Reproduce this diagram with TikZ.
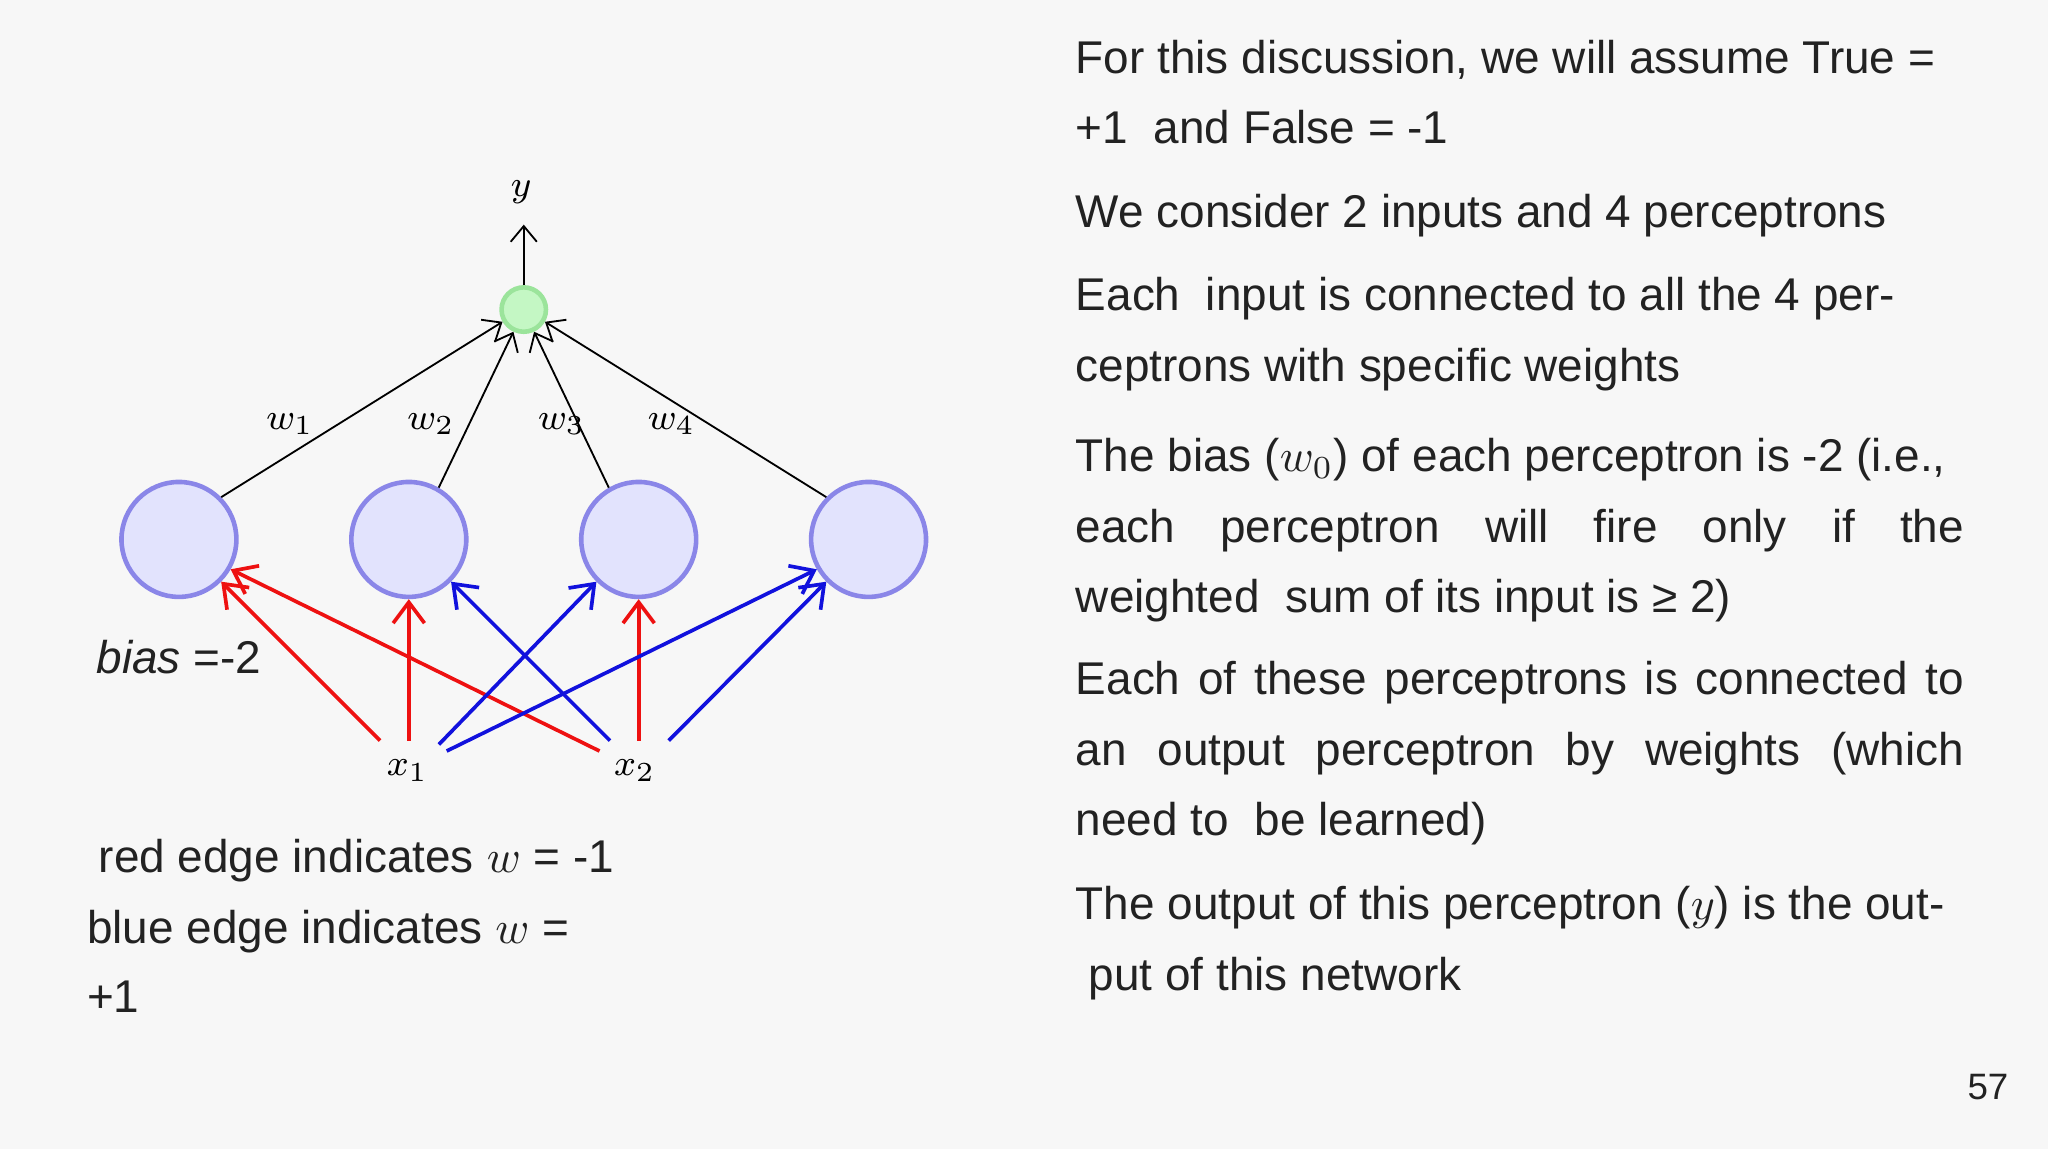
\documentclass[tikz,border=0pt]{standalone}
\usepackage{fontspec}
\setmainfont{Liberation Sans}
\usetikzlibrary{arrows.meta}
\definecolor{bg}{HTML}{F7F7F7}
\definecolor{nfill}{HTML}{E2E3FD}
\definecolor{ndraw}{HTML}{8A86E8}
\definecolor{gfill}{HTML}{C4F7C4}
\definecolor{gdraw}{HTML}{9BE49B}
\definecolor{txt}{HTML}{222222}
\definecolor{redE}{HTML}{EE1111}
\definecolor{blueE}{HTML}{1111DD}
\tikzset{
 perc/.style={circle,draw=ndraw,fill=nfill,line width=1pt,minimum size=0.88cm,inner sep=0pt},
 outp/.style={circle,draw=gdraw,fill=gfill,line width=1pt,minimum size=0.34cm,inner sep=0pt},
 lab/.style={inner sep=0pt,font=\fontsize{10}{12}\selectfont,text=txt},
 body/.style={inner sep=0pt,anchor=base west,font=\fontsize{10}{12}\selectfont,text=txt},
 wl/.style={inner sep=0pt,font=\fontsize{8}{10}\selectfont},
 redarr/.style={redE,line width=0.8pt,-{Straight Barb[length=1.6mm,width=2.4mm]}},
 bluearr/.style={blueE,line width=0.8pt,-{Straight Barb[length=1.6mm,width=2.4mm]}},
 blk/.style={black,line width=0.4pt,-{Straight Barb[length=1.2mm,width=2mm]}}
}
\begin{document}
\begin{tikzpicture}
\fill[bg] (0,0) rectangle (15.68,8.8);
\useasboundingbox (0,0) rectangle (15.68,8.8);
\node[perc] (p1) at (1.37,4.67) {};
\node[perc] (p2) at (3.13,4.67) {};
\node[perc] (p3) at (4.89,4.67) {};
\node[perc] (p4) at (6.65,4.67) {};
\node[outp] (o) at (4.01,6.43) {};
\node[wl] (y) at (3.99,7.33) {$y$};
\coordinate (yt) at (4.01,7.08);
\draw[blk] (o.north) -- (yt);
\node[wl] (x1) at (3.12,2.9) {$x_1$};
\node[wl] (x2) at (4.86,2.9) {$x_2$};
\coordinate (x1a) at (2.91,3.13);
\coordinate (x1b) at (3.13,3.13);
\coordinate (x1c) at (3.36,3.10);
\coordinate (x1d) at (3.42,3.05);
\coordinate (x2a) at (4.59,3.05);
\coordinate (x2b) at (4.89,3.13);
\coordinate (x2c) at (4.67,3.13);
\coordinate (x2d) at (5.12,3.13);
\draw[redarr] (x1a) -- (p1.south east);
\draw[redarr] (x1b) -- (p2.south);
\draw[redarr] (x2a) -- (p1.-30);
\draw[redarr] (x2b) -- (p3.south);
\draw[bluearr] (x1c) -- (p3.south west);
\draw[bluearr] (x1d) -- (p4.-150);
\draw[bluearr] (x2c) -- (p2.south east);
\draw[bluearr] (x2d) -- (p4.south west);
\draw[blk] (p1.north east) -- (o.-150);
\draw[blk] (p2.60) -- (o.-115);
\draw[blk] (p3.120) -- (o.-65);
\draw[blk] (p4.north west) -- (o.-30);
\node[wl] (w1) at (2.22,5.55) {$w_1$};
\node[wl] (w2) at (3.30,5.55) {$w_2$};
\node[wl] (w3) at (4.30,5.55) {$w_3$};
\node[wl] (w4) at (5.14,5.55) {$w_4$};
\node[lab] (bias) at (1.37,3.77) {$\mathit{bias}$ =-2};
\node[body] (l1) at (0.75,2.12) {red edge indicates $w$ = -1};
\node[body] (l2) at (0.66,1.58) {blue edge indicates $w$ =};
\node[body] (l3) at (0.66,1.05) {+1};
\node[body] (r1) at (8.23,8.24) {For this discussion, we will assume True =};
\node[body] (r2) at (8.23,7.70) {+1\ \ and False = -1};
\node[body] (r3) at (8.23,7.06) {We consider 2 inputs and 4 perceptrons};
\node[body] (r4) at (8.23,6.42) {Each\ \ input is connected to all the 4 per-};
\node[body] (r5) at (8.23,5.88) {ceptrons with specific weights};
\node[body] (r6) at (8.23,5.19) {The bias ($w_0$) of each perceptron is -2 (i.e.,};
\node[body] (r7) at (8.23,4.65) {\hbox to 6.8cm{each\hfill perceptron\hfill will\hfill fire\hfill only\hfill if\hfill the}};
\node[body] (r8) at (8.23,4.11) {weighted\ \ sum of its input is ≥ 2)};
\node[body] (r9) at (8.23,3.48) {\hbox to 6.8cm{Each\hfill of\hfill these\hfill perceptrons\hfill is\hfill connected\hfill to}};
\node[body] (r10) at (8.23,2.94) {\hbox to 6.8cm{an\hfill output\hfill perceptron\hfill by\hfill weights\hfill (which}};
\node[body] (r11) at (8.23,2.40) {need to\ \ be learned)};
\node[body] (r12) at (8.23,1.76) {The output of this perceptron ($y$) is the out-};
\node[body] (r13) at (8.33,1.22) {put of this network};
\node[inner sep=0pt,font=\fontsize{8}{10}\selectfont,text=txt] (pg) at (15.22,0.48) {57};
\end{tikzpicture}
\end{document}
